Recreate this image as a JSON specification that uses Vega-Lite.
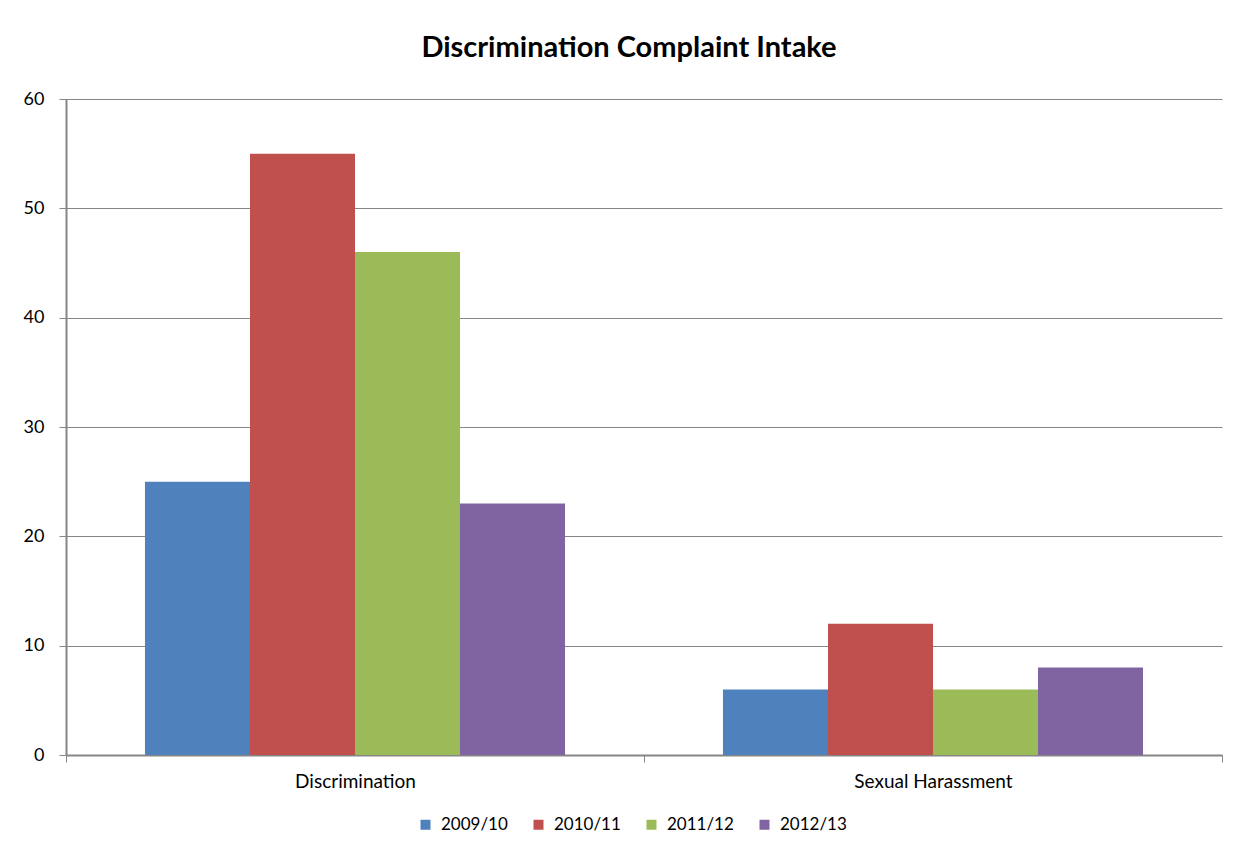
{
  "$schema": "https://vega.github.io/schema/vega-lite/v6.json",
  "width": 1156,
  "height": 656,
  "autosize": {"type": "none"},
  "padding": {"left": 66, "top": 99, "right": 25, "bottom": 110},
  "background": "white",
  "title": {
    "text": "Discrimination Complaint Intake",
    "font": "Lato",
    "fontSize": 29,
    "fontWeight": "bold",
    "color": "#000000",
    "anchor": "middle",
    "baseline": "alphabetic",
    "offset": 4,
    "dx": -15
  },
  "data": {
    "values": [
      {"category": "Discrimination", "year": "2009/10", "count": 25},
      {"category": "Discrimination", "year": "2010/11", "count": 55},
      {"category": "Discrimination", "year": "2011/12", "count": 46},
      {"category": "Discrimination", "year": "2012/13", "count": 23},
      {"category": "Sexual Harassment", "year": "2009/10", "count": 6},
      {"category": "Sexual Harassment", "year": "2010/11", "count": 12},
      {"category": "Sexual Harassment", "year": "2011/12", "count": 6},
      {"category": "Sexual Harassment", "year": "2012/13", "count": 8}
    ]
  },
  "mark": {"type": "bar", "strokeWidth": 0},
  "encoding": {
    "x": {
      "field": "category",
      "type": "nominal",
      "sort": null,
      "scale": {"paddingInner": 0, "paddingOuter": 0},
      "axis": {
        "title": null,
        "labelAngle": 0,
        "tickBand": "extent",
        "tickSize": 7,
        "tickColor": "#868686",
        "domainColor": "#868686",
        "domainWidth": 2,
        "labelFont": "Lato",
        "labelFontSize": 19,
        "labelColor": "#000000",
        "labelPadding": 10,
        "grid": false
      }
    },
    "xOffset": {
      "field": "year",
      "type": "nominal",
      "scale": {"paddingInner": 0, "paddingOuter": 0.752}
    },
    "y": {
      "field": "count",
      "type": "quantitative",
      "scale": {"domain": [0, 60], "nice": false},
      "axis": {
        "title": null,
        "values": [0, 10, 20, 30, 40, 50, 60],
        "grid": true,
        "gridColor": "#868686",
        "gridWidth": 1,
        "tickSize": 7,
        "tickColor": "#868686",
        "domainColor": "#868686",
        "domainWidth": 2,
        "labelFont": "Lato",
        "labelFontSize": 18,
        "labelColor": "#000000",
        "labelPadding": 15
      }
    },
    "color": {
      "field": "year",
      "type": "nominal",
      "scale": {
        "domain": ["2009/10", "2010/11", "2011/12", "2012/13"],
        "range": ["#4F81BD", "#C0504D", "#9BBB59", "#8064A2"]
      },
      "legend": {
        "title": null,
        "orient": "none",
        "direction": "horizontal",
        "legendX": 351,
        "legendY": 717,
        "padding": 0,
        "symbolType": "square",
        "symbolSize": 100,
        "symbolStrokeWidth": 0,
        "labelFont": "Lato",
        "labelFontSize": 17,
        "labelColor": "#000000",
        "labelOffset": 7,
        "columnPadding": 22
      }
    }
  },
  "config": {
    "view": {"stroke": null}
  }
}
